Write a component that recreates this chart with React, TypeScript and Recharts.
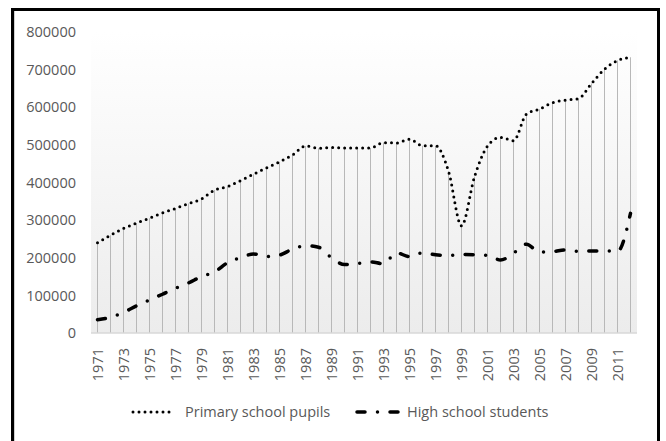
import React from "react";
import { ComposedChart, Bar, Line, XAxis, YAxis, CartesianGrid, Legend } from "recharts";

const years = [
  "1971", "1972", "1973", "1974", "1975", "1976", "1977", "1978", "1979", "1980",
  "1981", "1982", "1983", "1984", "1985", "1986", "1987", "1988", "1989", "1990",
  "1991", "1992", "1993", "1994", "1995", "1996", "1997", "1998", "1999", "2000",
  "2001", "2002", "2003", "2004", "2005", "2006", "2007", "2008", "2009", "2010",
  "2011", "2012",
];

const primaryPupils = [
  240000, 260000, 278000, 292000, 305000, 319000, 331000, 344000, 356000, 380000,
  389000, 405000, 422000, 439000, 455000, 473000, 497000, 491000, 493000, 492000,
  492000, 492000, 506000, 505000, 515000, 498000, 498000, 430000, 285000, 415000,
  497000, 520000, 511000, 582000, 595000, 612000, 619000, 623000, 663000, 701000,
  724000, 733000,
];

const highSchool = [
  35000, 42000, 55000, 72000, 88000, 103000, 119000, 133000, 150000, 162000,
  187000, 200000, 210000, 203000, 207000, 223000, 232000, 228000, 200000, 182000,
  185000, 189000, 184000, 213000, 203000, 213000, 208000, 206000, 209000, 208000,
  206000, 194000, 212000, 236000, 215000, 216000, 221000, 217000, 218000, 218000,
  217000, 318000,
];

const yTicks = [0, 100000, 200000, 300000, 400000, 500000, 600000, 700000, 800000];

const data = years.map((year, i) => ({
  year,
  primary: primaryPupils[i],
  high: highSchool[i],
}));

const FONT = "'Open Sans', sans-serif";
const TEXT = "#595959";
const DOTTED = "0 6";
const DASH_DOT = "8 12.5 0 12.5";

const YearTick = (props: any) => {
  const { x, payload } = props;
  const y = 348;
  return (
    <text
      x={x}
      y={y}
      transform={`rotate(-90, ${x}, ${y})`}
      textAnchor="end"
      dominantBaseline="central"
      fill={TEXT}
      fontSize={14.5}
      fontFamily={FONT}
    >
      {payload.value}
    </text>
  );
};

const ChartLegend = () => (
  <div style={{ position: "relative", width: 666, height: 24, fontFamily: FONT, fontSize: 14.5, color: TEXT }}>
    <svg style={{ position: "absolute", left: 130, top: 4 }} width={44} height={16}>
      <line x1={3} y1={8} x2={41} y2={8} stroke="#000" strokeWidth={3} strokeLinecap="round" strokeDasharray={DOTTED} />
    </svg>
    <span style={{ position: "absolute", left: 185, top: 0, lineHeight: "24px", whiteSpace: "nowrap" }}>Primary school pupils</span>
    <svg style={{ position: "absolute", left: 352, top: 4 }} width={56} height={16}>
      <line x1={5} y1={8} x2={54} y2={8} stroke="#000" strokeWidth={3.5} strokeLinecap="round" strokeDasharray={DASH_DOT} />
    </svg>
    <span style={{ position: "absolute", left: 407, top: 0, lineHeight: "24px", whiteSpace: "nowrap" }}>High school students</span>
  </div>
);

export default function App() {
  return (
    <div style={{ position: "absolute", left: 0, top: 0, width: 666, height: 441, background: "#fff" }}>
      <div
        style={{
          position: "absolute",
          left: 11,
          top: 8,
          width: 643,
          height: 432,
          borderLeft: "3px solid #000",
          borderTop: "3px solid #000",
          borderRight: "3px solid #000",
          borderBottom: "1px solid #d9d9d9",
          boxShadow: "inset 1px 0 0 #d0d0d0",
        }}
      />
      <div style={{ position: "absolute", left: 0, top: 0 }}>
        <ComposedChart
          width={666}
          height={441}
          data={data}
          margin={{ top: 32, right: 29, left: 0, bottom: 0 }}
          barCategoryGap={0}
        >
          <defs>
            <linearGradient id="plotBg" x1="0" y1="0" x2="0" y2="1">
              <stop offset="0%" stopColor="#ffffff" />
              <stop offset="100%" stopColor="#ececec" />
            </linearGradient>
          </defs>
          <CartesianGrid horizontal={false} vertical={false} fill="url(#plotBg)" fillOpacity={1} />
          <XAxis
            dataKey="year"
            interval={1}
            height={108}
            tickLine={false}
            axisLine={{ stroke: "#d9d9d9", strokeWidth: 1.5 }}
            tick={<YearTick />}
          />
          <YAxis
            domain={[0, 800000]}
            ticks={yTicks}
            width={91}
            axisLine={false}
            tickLine={false}
            tickSize={0}
            tickMargin={15}
            tick={{ fill: TEXT, fontSize: 14.5, fontFamily: FONT }}
          />
          <Legend
            verticalAlign="middle"
            align="center"
            wrapperStyle={{ top: 400, left: 0, width: 666 }}
            content={<ChartLegend />}
          />
          <Bar dataKey="primary" barSize={1} fill="#b8b8b8" isAnimationActive={false} legendType="none" />
          <Line
            type="monotone"
            dataKey="primary"
            name="Primary school pupils"
            stroke="#000"
            strokeWidth={3}
            strokeLinecap="round"
            strokeDasharray={DOTTED}
            dot={false}
            activeDot={false}
            isAnimationActive={false}
          />
          <Line
            type="monotone"
            dataKey="high"
            name="High school students"
            stroke="#000"
            strokeWidth={3.5}
            strokeLinecap="round"
            strokeDasharray={DASH_DOT}
            dot={false}
            activeDot={false}
            isAnimationActive={false}
          />
        </ComposedChart>
      </div>
    </div>
  );
}
